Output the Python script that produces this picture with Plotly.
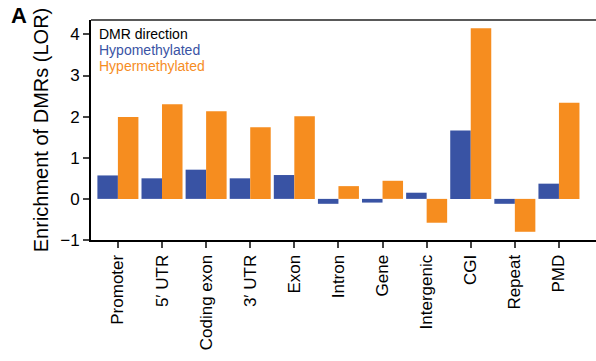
import plotly.graph_objects as go

# Genomic features and enrichment (log odds ratio) of DMRs by direction
features = ["Promoter", "5\u2032 UTR", "Coding exon", "3\u2032 UTR", "Exon", "Intron",
            "Gene", "Intergenic", "CGI", "Repeat", "PMD"]
hypo_lor = [0.57, 0.50, 0.71, 0.50, 0.58, -0.12, -0.09, 0.15, 1.66, -0.12, 0.37]
hyper_lor = [1.99, 2.30, 2.13, 1.74, 2.01, 0.31, 0.44, -0.58, 4.15, -0.80, 2.34]
y_ticks = [-1, 0, 1, 2, 3, 4]

BLUE = "#3953A4"
ORANGE = "#F68D1F"
FONT = "Liberation Sans, Arial, sans-serif"

fig = go.Figure()
fig.add_trace(go.Bar(x=features, y=hypo_lor, name="Hypomethylated",
                     marker=dict(color=BLUE, line=dict(width=0))))
fig.add_trace(go.Bar(x=features, y=hyper_lor, name="Hypermethylated",
                     marker=dict(color=ORANGE, line=dict(width=0))))

fig.update_layout(
    width=596, height=361,
    margin=dict(l=91, r=0, t=20, b=121),
    paper_bgcolor="white", plot_bgcolor="white",
    barmode="group", bargap=0.07, bargroupgap=0,
    showlegend=False,
    font=dict(family=FONT, color="black"),
)

fig.update_xaxes(
    range=[-0.61, 10.84], tickangle=-90,
    showline=True, linecolor="black", linewidth=2,
    ticks="outside", ticklen=6, tickwidth=2, tickcolor="#444",
    tickfont=dict(size=17, family=FONT), showgrid=False, zeroline=False,
)
fig.update_yaxes(
    range=[-1, 4.35], tickvals=y_ticks,
    showline=True, linecolor="black", linewidth=2,
    ticks="outside", ticklen=6, tickwidth=2, tickcolor="#444",
    tickfont=dict(size=17, family=FONT), showgrid=False, zeroline=False,
    title=dict(text="Enrichment of DMRs (LOR)", font=dict(size=20, family=FONT), standoff=6),
)

# top frame line
fig.add_shape(type="line", xref="paper", yref="paper", x0=0, x1=1, y0=1, y1=1,
              line=dict(color="#222", width=1.5))

# legend as coloured text
legend_items = [("DMR direction", "black"), ("Hypomethylated", BLUE), ("Hypermethylated", ORANGE)]
for i, (txt, col) in enumerate(legend_items):
    fig.add_annotation(text=txt, xref="paper", yref="paper", x=0.012, y=0.935 - i * 0.072,
                       xanchor="left", yanchor="middle", showarrow=False,
                       font=dict(size=14, color=col, family=FONT))

# panel label
fig.add_annotation(text="<b>A</b>", xref="paper", yref="paper", x=-0.163, y=1.02,
                   xanchor="left", yanchor="middle", showarrow=False,
                   font=dict(size=22, color="black", family=FONT))

fig.write_html("out.html")
